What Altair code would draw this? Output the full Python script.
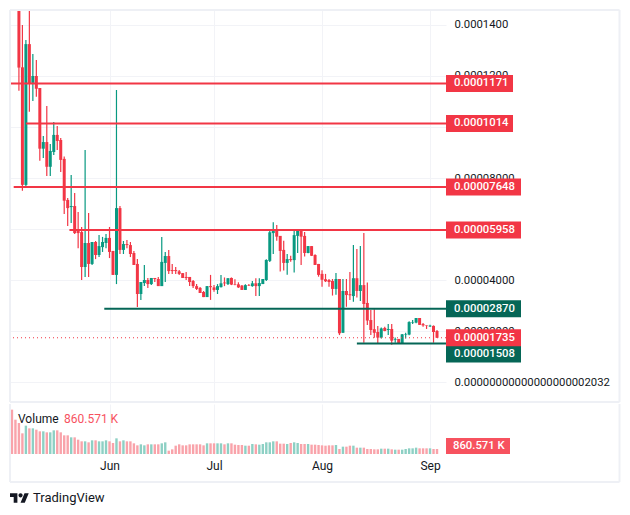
import altair as alt
import pandas as pd

# precos em unidades de 0.00001 (4 mai a 3 set)
abertura = [17.0, 16.0, 15.5, 12.34, 7.73, 13.25, 11.73, 12.0, 11.53, 9.15, 9.41, 8.44, 9.02, 9.69, 9.49, 8.75, 7.14, 6.86, 6.90, 6.00, 5.88, 4.51, 5.45, 4.63, 5.49, 4.98, 5.29, 5.45,
            5.65, 5.14, 4.20, 6.82, 5.18, 5.41, 5.37, 5.06, 4.63, 3.45, 3.88, 4.00, 3.84, 4.08, 4.04, 3.76, 4.67, 4.94, 4.39, 4.39, 4.34, 4.27, 4.12, 4.12, 3.96, 3.76, 3.69, 3.53, 3.33, 3.76,
            3.71, 3.61, 3.72, 3.90, 3.84, 4.08, 3.84, 3.83, 3.78, 3.61, 3.80, 3.76, 3.87, 3.76, 3.84, 4.00, 4.75, 5.84, 5.96, 5.73, 5.18, 4.67, 4.82, 4.78, 5.73, 5.99, 5.73, 5.06, 5.33, 4.98,
            4.63, 4.24, 4.03, 4.00, 3.96, 3.65, 4.04, 1.93, 3.57, 3.44, 3.37, 4.07, 3.57, 3.80, 3.10, 2.43, 2.07, 1.96, 1.74, 2.12, 2.04, 2.08, 1.66, 1.69, 1.50, 1.86, 1.86, 2.33, 2.33, 2.51,
            2.27, 2.22, 2.18, 2.20, 2.00]
maxima = [17.5, 16.4, 16.0, 14.0, 13.41, 14.7, 12.86, 12.63, 11.53, 9.65, 10.82, 9.33, 10.20, 10.04, 9.57, 8.84, 7.22, 8.12, 7.41, 6.67, 6.08, 9.10, 6.63, 5.49, 5.53, 5.76, 5.69, 5.80,
          6.08, 5.14, 11.45, 6.90, 5.53, 5.57, 5.49, 5.14, 4.82, 3.92, 4.59, 4.08, 4.08, 4.08, 4.12, 5.69, 5.10, 5.18, 4.63, 4.51, 4.39, 4.27, 4.31, 4.12, 4.00, 3.84, 3.73, 3.57, 3.76, 4.20,
          3.80, 3.84, 4.20, 4.10, 4.07, 4.10, 4.03, 3.91, 3.80, 3.83, 3.84, 3.96, 4.07, 4.07, 4.04, 4.81, 5.96, 6.26, 6.16, 5.73, 5.54, 5.02, 4.95, 5.99, 6.00, 5.99, 5.88, 5.33, 5.33, 5.01,
          4.63, 4.38, 4.24, 4.04, 4.04, 4.27, 4.04, 4.04, 4.04, 4.31, 5.37, 5.22, 5.33, 5.84, 3.90, 2.82, 2.85, 2.20, 2.14, 2.17, 2.27, 2.27, 1.75, 1.69, 1.88, 1.93, 2.38, 2.43, 2.51, 2.51,
          2.31, 2.22, 2.25, 2.22, 2.04]
minima = [15.4, 14.9, 11.42, 7.50, 7.61, 10.60, 11.02, 11.19, 8.68, 8.78, 8.08, 8.08, 8.90, 9.10, 8.24, 6.59, 6.12, 6.24, 5.80, 5.25, 4.00, 4.12, 4.12, 4.59, 4.82, 4.90, 5.10, 5.25,
          4.86, 4.20, 3.84, 5.02, 5.02, 5.25, 4.90, 4.59, 2.94, 3.22, 3.76, 3.69, 3.80, 3.92, 3.76, 3.76, 3.92, 4.24, 4.24, 4.24, 4.20, 4.08, 4.00, 3.76, 3.69, 3.61, 3.49, 3.33, 3.33, 3.22,
          3.54, 3.45, 3.71, 3.76, 3.80, 3.80, 3.79, 3.69, 3.61, 3.61, 3.76, 3.74, 3.37, 3.37, 3.84, 3.96, 4.71, 5.02, 5.54, 4.33, 4.37, 4.21, 4.72, 4.29, 5.06, 4.59, 4.92, 5.05, 4.94, 4.59,
          4.13, 3.74, 3.92, 3.74, 3.39, 3.42, 1.84, 1.93, 2.95, 3.22, 3.15, 3.31, 3.18, 1.54, 2.24, 1.84, 1.74, 1.52, 1.71, 1.99, 1.84, 1.46, 1.54, 1.50, 1.50, 1.71, 1.83, 2.27, 2.30, 2.24,
          2.17, 2.08, 2.16, 1.54, 1.73]
fechamento = [15.8, 15.2, 12.33, 7.73, 13.25, 11.71, 12.0, 11.50, 9.15, 9.41, 8.44, 9.06, 9.69, 9.45, 8.71, 7.11, 6.82, 6.90, 5.84, 5.84, 4.51, 5.45, 4.63, 5.49, 4.98, 5.33, 5.49, 5.65,
              5.10, 4.20, 6.82, 5.18, 5.41, 5.37, 5.02, 4.59, 3.45, 3.92, 4.00, 3.84, 4.08, 4.04, 3.76, 4.71, 4.94, 4.35, 4.35, 4.35, 4.24, 4.08, 4.08, 3.92, 3.76, 3.65, 3.49, 3.33, 3.76, 3.72,
              3.61, 3.76, 3.87, 3.87, 4.07, 3.82, 3.82, 3.71, 3.61, 3.80, 3.78, 3.87, 3.76, 3.88, 4.04, 4.78, 5.87, 5.97, 5.70, 5.14, 4.67, 4.82, 4.78, 5.76, 6.00, 5.70, 5.06, 5.33, 4.95, 4.59,
              4.20, 4.01, 3.95, 3.92, 3.65, 4.04, 1.91, 3.57, 3.41, 3.40, 4.07, 3.57, 3.80, 3.06, 2.41, 2.04, 1.93, 1.74, 2.10, 2.00, 2.08, 1.62, 1.69, 1.50, 1.87, 1.88, 2.35, 2.35, 2.51, 2.24,
              2.22, 2.20, 2.21, 1.96, 1.735]
# volume em milhares
volume = [7634, 5912, 5338, 3559, 4879, 4420, 4420, 4190, 3903, 3903, 3731, 3731, 4075, 4075, 3731, 3214, 3214, 2870, 2870, 2468, 2181, 2181, 2009, 2353, 2353, 2181, 2181, 2353, 2181, 1894,
          2698, 2181, 2353, 2181, 2181, 1837, 1492, 1665, 1492, 1665, 1665, 1665, 1665, 1837, 2009, 574, 804, 1435, 1665, 1492, 1492, 1665, 1665, 1665, 1665, 1492, 1837, 1837, 1837, 1837,
          1837, 1665, 1837, 1837, 1607, 1550, 1550, 1435, 1435, 1722, 1665, 1607, 1722, 2009, 2009, 2181, 2181, 1779, 1779, 1722, 1894, 2009, 1894, 1722, 1722, 1722, 1607, 1607, 1550, 1492,
          1435, 1492, 1492, 1550, 861, 1263, 1263, 1435, 1435, 1091, 1091, 1091, 861, 861, 804, 804, 918, 918, 918, 804, 746, 746, 746, 861, 976, 976, 1091, 976, 976, 976, 976, 861, 861]

niveis_vermelhos = [11.71, 10.14, 7.648, 5.958]
inicio_vermelhos = ["2024-05-03T12:00", "2024-05-08T00:00", "2024-05-04T12:00", "2024-05-20T12:00"]
rotulos_vermelhos = ["0.0001171", "0.0001014", "0.00007648", "0.00005958"]
niveis_verdes = [2.870, 1.508]
inicio_verdes = ["2024-05-30T12:00", "2024-08-11T00:00"]
rotulos_verdes = ["0.00002870", "0.00001508"]
ultimo_preco = 1.735
ultimo_rotulo = "0.00001735"
ticks_preco = [0, 2, 4, 6, 8, 10, 12, 14]

vermelho, verde = "#f23645", "#089981"
rosa, verde_claro = "#f9a3aa", "#8dd0c4"
verde_escuro, moldura, grade, texto = "#056656", "#eef0f5", "#f2f3f7", "#131722"
fonte = "Roboto"

velas = pd.DataFrame({
    "data": pd.date_range("2024-05-04", periods=len(abertura)).strftime("%Y-%m-%dT00:00"),
    "abertura": [v * 1e-5 for v in abertura],
    "maxima": [v * 1e-5 for v in maxima],
    "minima": [v * 1e-5 for v in minima],
    "fechamento": [v * 1e-5 for v in fechamento],
    "volume": [v * 1000 for v in volume],
})
um = pd.DataFrame({"um": [0]})

LARG, ALT_P, ALT_V = 436, 392, 50
escala_x = alt.Scale(domain=[alt.DateTime(year=2024, month=5, date=3, hours=10, minutes=34),
                             alt.DateTime(year=2024, month=9, date=5, hours=13, minutes=55)], padding=0)
escala_y = alt.Scale(domain=[-0.784e-5, 14.588e-5], nice=False, zero=False)
cor_vela = alt.condition("datum.fechamento >= datum.abertura", alt.value(verde), alt.value(vermelho))
cor_volume = alt.condition("datum.fechamento >= datum.abertura", alt.value(verde_claro), alt.value(rosa))
eixo_x = dict(format="%b", tickCount="month", grid=True, gridColor=grade, domain=False, ticks=False, title=None)
eixo_x_precos = alt.Axis(labels=False, **eixo_x)
eixo_y = alt.Axis(
    orient="right", values=[t * 1e-5 for t in ticks_preco], grid=True, gridColor=grade, domain=False,
    ticks=False, title=None, labelPadding=8, labelColor=texto, labelFont=fonte, labelFontSize=11.3,
    labelExpr="datum.value < 1e-9 ? '0.00000000000000000002032' : "
              "format(datum.value, datum.value >= 9.9e-5 ? '.7f' : '.8f')")


def nivel(precos, inicios, cor):
    df = pd.DataFrame({"preco": [p * 1e-5 for p in precos], "inicio": inicios, "fim": "2024-09-05T13:55"})
    return alt.Chart(df).mark_rule(color=cor, strokeWidth=2, clip=True).encode(
        x=alt.X("inicio:T", scale=escala_x, axis=eixo_x_precos),
        x2="fim:T",
        y=alt.Y("preco:Q", scale=escala_y, axis=eixo_y),
    )


def etiqueta(precos, rotulos, cor, larg, desvio=0):
    df = pd.DataFrame({"preco": [p * 1e-5 for p in precos], "rotulo": rotulos})
    y = alt.Y("preco:Q", scale=escala_y, axis=eixo_y)
    fundo = alt.Chart(df).mark_rule(color=cor, strokeWidth=17, yOffset=desvio).encode(
        x=alt.value(LARG), x2=alt.value(LARG + larg), y=y)
    rotulo = alt.Chart(df).mark_text(color="white", font=fonte, fontSize=11.3, fontWeight=500, align="left",
                                     baseline="middle", dy=desvio).encode(
        x=alt.value(LARG + 8), y=y, text="rotulo:N")
    return fundo + rotulo


def linha(x, x2, y, y2):
    return alt.Chart(um).mark_rule(color=moldura, strokeWidth=2).encode(
        x=alt.value(x), x2=alt.value(x2), y=alt.value(y), y2=alt.value(y2))


pavio = alt.Chart(velas).mark_rule(strokeWidth=1.2, clip=True).encode(
    x=alt.X("data:T", scale=escala_x, axis=eixo_x_precos),
    y=alt.Y("minima:Q", scale=escala_y, axis=eixo_y),
    y2="maxima:Q",
    color=cor_vela,
)
corpo = alt.Chart(velas).mark_bar(size=3, clip=True).encode(
    x=alt.X("data:T", scale=escala_x, axis=eixo_x_precos),
    y=alt.Y("abertura:Q", scale=escala_y, axis=eixo_y),
    y2="fechamento:Q",
    color=cor_vela,
)
pontilhada = alt.Chart(pd.DataFrame({"preco": [ultimo_preco * 1e-5]})).mark_rule(
    color=vermelho, strokeWidth=1, strokeDash=[1, 3]).encode(
    y=alt.Y("preco:Q", scale=escala_y, axis=eixo_y))

precos = alt.layer(
    pavio, corpo, pontilhada,
    nivel(niveis_vermelhos, inicio_vermelhos, vermelho),
    nivel(niveis_verdes, inicio_verdes, verde_escuro),
    etiqueta(niveis_vermelhos[:2], rotulos_vermelhos[:2], vermelho, 67),
    etiqueta(niveis_vermelhos[2:], rotulos_vermelhos[2:], vermelho, 75),
    etiqueta(niveis_verdes[:1], rotulos_verdes[:1], verde_escuro, 75),
    etiqueta(niveis_verdes[1:], rotulos_verdes[1:], verde_escuro, 75, desvio=10.5),
    etiqueta([ultimo_preco], [ultimo_rotulo], vermelho, 75),
    linha(0, 609.5, 0, 0), linha(0, 609.5, ALT_P, ALT_P),
    linha(0, 0, 0, ALT_P), linha(609.5, 609.5, 0, ALT_P),
).properties(width=LARG, height=ALT_P)


def legenda(rotulo, x, y, cor, tamanho=12, **kw):
    return alt.Chart(um).mark_text(text=rotulo, color=cor, font=fonte, fontSize=tamanho, align="left",
                                   baseline="middle", **kw).encode(x=alt.value(x), y=alt.value(y))


barras = alt.Chart(velas).mark_bar(size=2.4).encode(
    x=alt.X("data:T", scale=escala_x, axis=alt.Axis(labelColor=texto, labelFont=fonte, labelFontSize=12,
                                                    labelPadding=6, **eixo_x)),
    y=alt.Y("volume:Q", scale=alt.Scale(domain=[0, 8610000], nice=False), axis=None),
    color=cor_volume,
)
logo = alt.Chart(um).mark_point(
    shape="M-0.222 0.5H-0.611V-0.111H-1V-0.5H-0.222ZM0.556 0.5H0.111L0.528 -0.5H0.972ZM-0.111 -0.278A0.222 0.222 0 1 0 0.333 -0.278A0.222 0.222 0 1 0 -0.111 -0.278Z",
    size=361, filled=True, opacity=1, color=texto, strokeWidth=0).encode(x=alt.value(9.5), y=alt.value(94))
etiqueta_volume = alt.Chart(um).mark_rule(color="#f7525f", strokeWidth=16).encode(
    x=alt.value(LARG), x2=alt.value(LARG + 64), y=alt.value(42))

vol = alt.layer(
    barras,
    legenda("Volume", 8, 15, texto),
    legenda("860.571 K", 54, 15, "#f7525f"),
    etiqueta_volume,
    legenda("860.571 K", LARG + 7, 42, "white", 11.3, fontWeight=500),
    linha(0, 0, 0, 78), linha(609.5, 609.5, 0, 78), linha(0, 609.5, 78, 78),
    logo,
    legenda("TradingView", 23, 93.5, texto, 13),
).properties(width=LARG, height=ALT_V)

chart = alt.vconcat(precos, vol, spacing=0, padding={"left": 1, "top": 1, "right": 0, "bottom": 0},
                    background="white").configure_view(stroke=None)

chart.save("out.html", embed_options={"renderer": "svg", "actions": False})
